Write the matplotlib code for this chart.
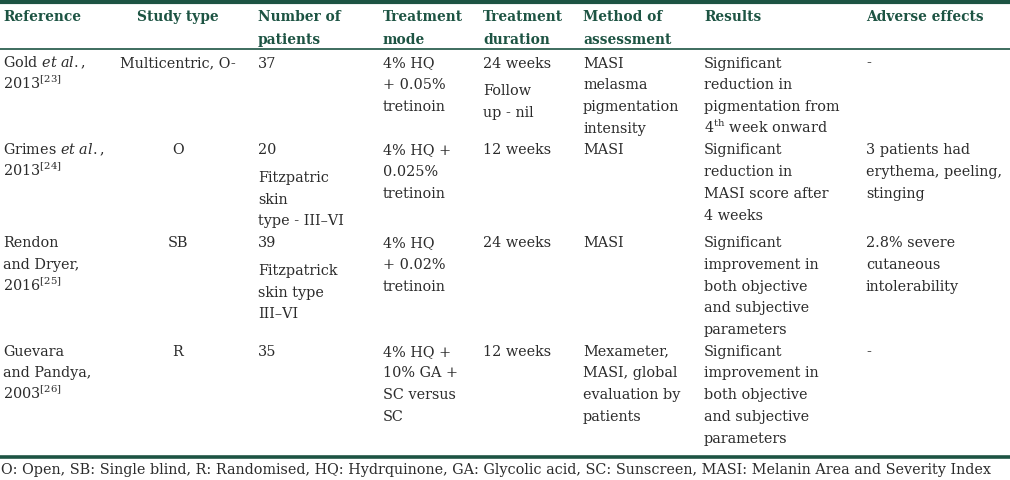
import matplotlib
matplotlib.use("Agg")
import matplotlib.pyplot as plt

plt.rcParams['font.family'] = ['DejaVu Serif']
plt.rcParams['mathtext.fontset'] = 'dejavuserif'

# encabezados de columnas
headers = [
    ["Reference"],
    ["Study type"],
    ["Number of", "patients"],
    ["Treatment", "mode"],
    ["Treatment", "duration"],
    ["Method of", "assessment"],
    ["Results"],
    ["Adverse effects"],
]

# cada celda: lista de parrafos, cada parrafo: lista de lineas
reference = [
    [["Gold $\\mathit{et\\ al.}$,", "2013$^{\\mathrm{[23]}}$"]],
    [["Grimes $\\mathit{et\\ al.}$,", "2013$^{\\mathrm{[24]}}$"]],
    [["Rendon", "and Dryer,", "2016$^{\\mathrm{[25]}}$"]],
    [["Guevara", "and Pandya,", "2003$^{\\mathrm{[26]}}$"]],
]
study_type = [
    [["Multicentric, O-"]],
    [["O"]],
    [["SB"]],
    [["R"]],
]
n_patients = [
    [["37"]],
    [["20"], ["Fitzpatric", "skin", "type - III\u2013VI"]],
    [["39"], ["Fitzpatrick", "skin type", "III\u2013VI"]],
    [["35"]],
]
treatment_mode = [
    [["4% HQ", "+ 0.05%", "tretinoin"]],
    [["4% HQ +", "0.025%", "tretinoin"]],
    [["4% HQ", "+ 0.02%", "tretinoin"]],
    [["4% HQ +", "10% GA +", "SC versus", "SC"]],
]
duration = [
    [["24 weeks"], ["Follow", "up - nil"]],
    [["12 weeks"]],
    [["24 weeks"]],
    [["12 weeks"]],
]
method = [
    [["MASI", "melasma", "pigmentation", "intensity"]],
    [["MASI"]],
    [["MASI"]],
    [["Mexameter,", "MASI, global", "evaluation by", "patients"]],
]
results = [
    [["Significant", "reduction in", "pigmentation from", "4$^{\\mathrm{th}}$ week onward"]],
    [["Significant", "reduction in", "MASI score after", "4 weeks"]],
    [["Significant", "improvement in", "both objective", "and subjective", "parameters"]],
    [["Significant", "improvement in", "both objective", "and subjective", "parameters"]],
]
adverse = [
    [["-"]],
    [["3 patients had", "erythema, peeling,", "stinging"]],
    [["2.8% severe", "cutaneous", "intolerability"]],
    [["-"]],
]
footnote = ("O: Open, SB: Single blind, R: Randomised, HQ: Hydrquinone, GA: Glycolic acid, "
            "SC: Sunscreen, MASI: Melanin Area and Severity Index")

columns = [reference, study_type, n_patients, treatment_mode, duration, method, results, adverse]

# layout en pixeles
W, H = 1010, 480
col_x = [3, 178, 258, 383, 483, 583, 704, 866]
col_ha = ['left', 'center', 'left', 'left', 'left', 'left', 'left', 'left']
first_row = 63       # centro de la primera linea del cuerpo
line_h = 21.7
para_gap = 6
base_off = 4.6       # distancia centro -> linea base
green = '#1d5443'
text_color = '#2b2b2b'
fs = 10.4
fs_head = 9.9

fig = plt.figure(figsize=(W / 100, H / 100), dpi=100)
ax = fig.add_axes([0, 0, 1, 1])
ax.set_xlim(0, W)
ax.set_ylim(H, 0)
ax.axis('off')

# lineas horizontales
ax.plot([0, W], [1.5, 1.5], color=green, lw=3.0, solid_capstyle='butt')
ax.plot([0, W], [48.5, 48.5], color=green, lw=1.2, solid_capstyle='butt')
ax.plot([0, W], [456.5, 456.5], color=green, lw=2.6, solid_capstyle='butt')

# encabezado
for j, lines in enumerate(headers):
    for k, line in enumerate(lines):
        ax.text(col_x[j], 16 + k * 23 + base_off, line, ha=col_ha[j], va='baseline',
                fontsize=fs_head, fontweight='bold', color=green)


def cell_height(cell):
    n = sum(len(p) for p in cell)
    return n * line_h + (len(cell) - 1) * para_gap


# cuerpo: cada fila empieza donde termina la celda mas alta de la anterior
y0 = first_row
for i in range(len(reference)):
    for j, col in enumerate(columns):
        y = y0
        for p, para in enumerate(col[i]):
            if p > 0:
                y += para_gap
            for line in para:
                ax.text(col_x[j], y + base_off, line, ha=col_ha[j], va='baseline',
                        fontsize=fs, color=text_color)
                y += line_h
    y0 += max(cell_height(col[i]) for col in columns)

ax.text(1, 469 + base_off, footnote, ha='left', va='baseline', fontsize=fs, color=text_color)

fig.savefig('out.png', dpi=100)
